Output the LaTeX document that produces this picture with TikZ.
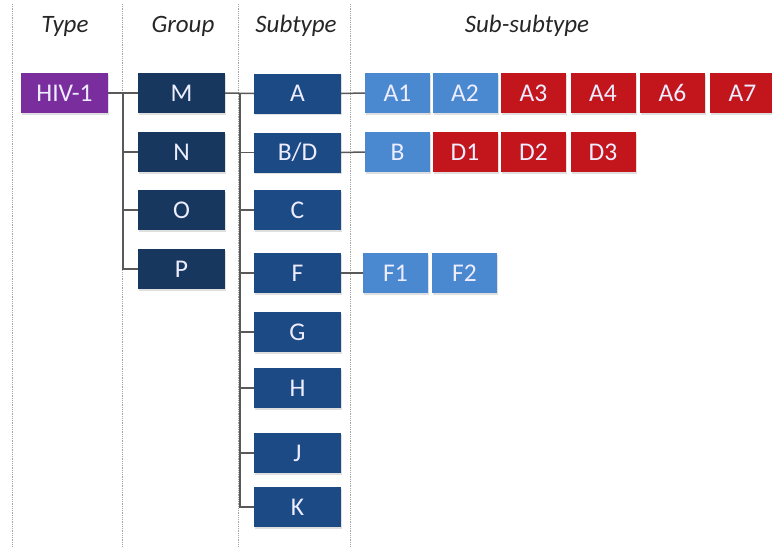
\documentclass[tikz,border=0pt]{standalone}
\usepackage{fontspec}
\setmainfont{Carlito}
\usetikzlibrary{shadows}
\definecolor{hivpurple}{HTML}{7A2E9E}
\definecolor{grpnavy}{HTML}{17375E}
\definecolor{subblue}{HTML}{1C4A85}
\definecolor{ssblue}{HTML}{4A88CF}
\definecolor{ssred}{HTML}{C3161C}
\definecolor{linegray}{HTML}{595959}
\definecolor{guidegray}{HTML}{A6A6A6}
\tikzset{
  boxbase/.style={rectangle, inner sep=0pt, text=white!93!blue, font=\fontsize{25.5}{28}\selectfont,
    drop shadow={shadow xshift=1pt, shadow yshift=-1.5pt, opacity=0.25}},
  typebox/.style={boxbase, fill=hivpurple, minimum width=87pt, minimum height=40pt},
  grpbox/.style={boxbase, fill=grpnavy, minimum width=87pt, minimum height=40pt},
  subbox/.style={boxbase, fill=subblue, minimum width=87pt, minimum height=40pt},
  ssb/.style={boxbase, fill=ssblue, minimum width=65pt, minimum height=40pt},
  ssr/.style={boxbase, fill=ssred, minimum width=65pt, minimum height=40pt},
  header/.style={font=\fontsize{25}{28}\selectfont\itshape, text=black!85},
  guide/.style={guidegray, densely dotted, line width=0.8pt},
  link/.style={linegray, line width=1.5pt}
}
\begin{document}
\begin{tikzpicture}[x=1pt, y=-1pt]
\useasboundingbox (0,0) rectangle (772,547);
\clip (0,0) rectangle (772,547);
% guides
\foreach \gx in {12,122,238,350} \draw[guide] (\gx,4) -- (\gx,547);
% headers
\node[header] (hType) at (65,26) {Type};
\node[header] (hGroup) at (183,26) {Group};
\node[header] (hSub) at (296,26) {Subtype};
\node[header] (hSS) at (527,26) {Sub-subtype};
% type
\node[typebox] (HIV) at (64.5,93) {HIV-1};
% groups
\node[grpbox] (M) at (181.5,93) {M};
\node[grpbox] (N) at (181.5,152) {N};
\node[grpbox] (O) at (181.5,210) {O};
\node[grpbox] (P) at (181.5,269) {P};
% subtypes
\node[subbox] (A) at (297.5,93.5) {A};
\node[subbox] (BD) at (297.5,152.5) {B/D};
\node[subbox] (C) at (297.5,210) {C};
\node[subbox] (F) at (297.5,273) {F};
\node[subbox] (G) at (297.5,332) {G};
\node[subbox] (H) at (297.5,388) {H};
\node[subbox] (J) at (297.5,453) {J};
\node[subbox] (K) at (297.5,507) {K};
% sub-subtypes
\node[ssb] (A1) at (397.5,93) {A1};
\node[ssb] (A2) at (465,93) {A2};
\node[ssr] (A3) at (533.5,93) {A3};
\node[ssr] (A4) at (603,93) {A4};
\node[ssr] (A6) at (672.5,93) {A6};
\node[ssr] (A7) at (742.5,93) {A7};
\node[ssb] (B) at (397.5,152) {B};
\node[ssr] (D1) at (465,152) {D1};
\node[ssr] (D2) at (533.5,152) {D2};
\node[ssr] (D3) at (603,152) {D3};
\node[ssb] (F1) at (395.5,273) {F1};
\node[ssb] (F2) at (464.5,273) {F2};
% connectors
\coordinate (gt) at (123,93);
\coordinate (st) at (240,93.5);
\draw[link] (HIV.east) -- (M.west);
\draw[link] (gt) |- (N.west);
\draw[link] (gt) |- (O.west);
\draw[link] (gt) |- (P.west);
\draw[link] (M.east) -- (A.west);
\foreach \s in {BD,C,F,G,H,J,K} \draw[link] (st) |- (\s.west);
\draw[link] (A.east) -- (A1.west);
\draw[link] (BD.east) -- (B.west);
\draw[link] (F.east) -- (F1.west);
\end{tikzpicture}
\end{document}
